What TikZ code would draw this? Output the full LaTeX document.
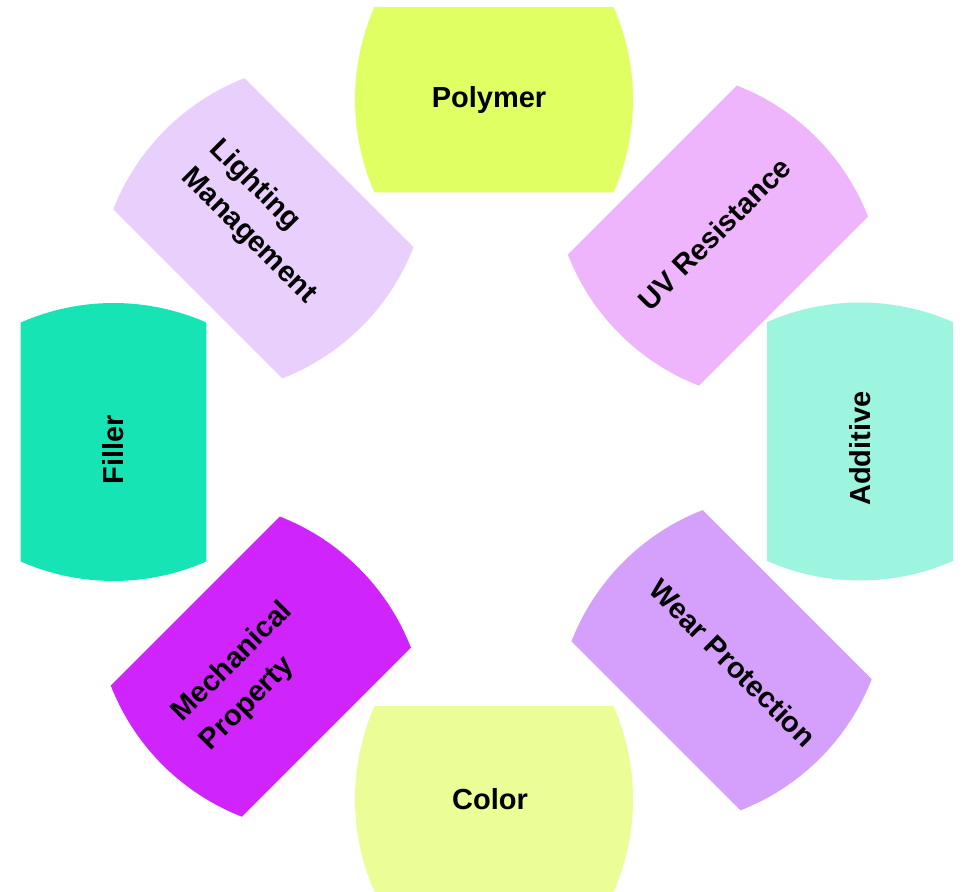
\documentclass[tikz,border=0pt]{standalone}
\usepackage{fontspec}
\setmainfont{Liberation Sans}
\definecolor{cPolymer}{HTML}{E0FF62}
\definecolor{cUV}{HTML}{EEB5FC}
\definecolor{cAdditive}{HTML}{9DF5E0}
\definecolor{cWear}{HTML}{D5A0FC}
\definecolor{cColor}{HTML}{EAFD96}
\definecolor{cMech}{HTML}{D024FC}
\definecolor{cFiller}{HTML}{16E4B4}
\definecolor{cLight}{HTML}{E9D0FC}
\newcommand\petalshape[4]{%
  \fill[#4, shift={(#1,#2)}, rotate=#3]
    (-119.5,-92.8) -- (119.5,-92.8)
    arc[start angle=-23.73, end angle=23.73, radius=230.6]
    -- (-119.5,92.8)
    arc[start angle=156.27, end angle=203.73, radius=230.6]
    -- cycle;}
\tikzset{lbl/.style={font=\bfseries\fontsize{29}{40}\selectfont, text=black, align=left, inner sep=0pt}}
\begin{document}
\begin{tikzpicture}[x=1pt,y=1pt]
\useasboundingbox (0,0) rectangle (963,891);
\petalshape{494}{791.3}{0}{cPolymer}
\petalshape{717.9}{655.4}{45}{cUV}
\petalshape{860}{449.5}{90}{cAdditive}
\petalshape{721.6}{230.8}{-45}{cWear}
\petalshape{494}{92}{0}{cColor}
\petalshape{260.85}{224.35}{45}{cMech}
\petalshape{113.5}{449}{90}{cFiller}
\petalshape{263.4}{662.7}{-45}{cLight}
\node[lbl, rotate=0] (polymer) at ([shift={(0:-5)}]494,791.3) {Polymer};
\node[lbl, rotate=45] (uv) at ([shift={(45:-1)}, shift={(135:4)}]717.9,655.4) {UV Resistance};
\node[lbl, rotate=90] (additive) at ([shift={(90:-7)}]860,449.5) {Additive};
\node[lbl, rotate=-45] (wear) at ([shift={(-45:10)}, shift={(45:6)}]721.6,230.8) {Wear Protection};
\node[lbl, rotate=0] (color) at ([shift={(0:-4)}]494,92) {Color};
\node[lbl, rotate=45] (mech) at ([shift={(45:-17)}, shift={(135:3)}]260.85,224.35) {Mechanical\\Property};
\node[lbl, rotate=90] (filler) at ([shift={(90:-8)}]113.5,449) {Filler};
\node[lbl, rotate=-45] (light) at ([shift={(-45:-5)}, shift={(45:4)}]263.4,662.7) {Lighting\\Management};
\end{tikzpicture}
\end{document}
